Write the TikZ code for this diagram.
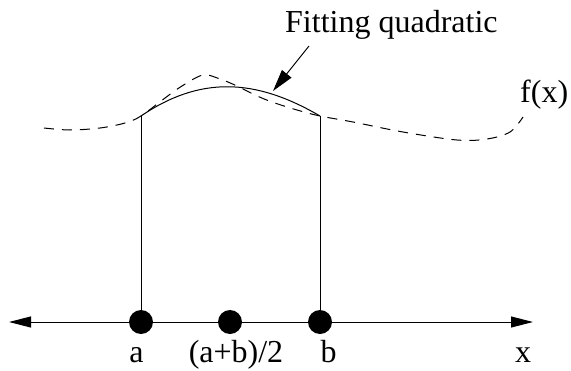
\documentclass[tikz,border=0pt]{standalone}
\usepackage{fontspec}
\setmainfont{Liberation Serif}
\usetikzlibrary{arrows.meta,positioning}

\begin{document}
\begin{tikzpicture}[x=1pt, y=-1pt,
    lbl/.style={font=\fontsize{32}{38}\selectfont, inner sep=0pt, anchor=base},
    dot/.style={circle, fill=black, inner sep=0pt, minimum size=24pt},
    thin line/.style={line width=1pt},
    fcurve/.style={line width=1pt, dash pattern=on 10pt off 8pt},
    axis/.style={line width=1pt, {Triangle[length=22pt,width=11pt]}-{Triangle[length=22pt,width=11pt]}},
    pointer/.style={line width=1pt, -{Triangle[length=22pt,width=12pt]}},
]
\useasboundingbox (0,0) rectangle (571,370);

% x axis and the three sample points
\coordinate (xl) at (9,322);
\coordinate (xr) at (533,322);
\draw[axis] (xl) -- (xr);
\foreach \name/\x in {a/141, m/230, b/320} {
    \node[dot] (\name) at (\x,322) {};
}
\node[lbl] (la) at (136.5,362) {a};
\node[lbl] (lm) at (236,362) {(a+b)/2};
\node[lbl] (lb) at (328.5,362) {b};
\node[lbl] (lx) at (523,362) {x};

% f(x) and the fitting quadratic
\coordinate (fa) at (141,116);
\coordinate (fb) at (320,116);
\draw[thin line] (a) -- (fa);
\draw[thin line] (b) -- (fb);
\draw[thin line] (fa) .. controls (200,76) and (255,78) .. (fb);
\draw[fcurve] plot[smooth, tension=0.55] coordinates {(44,128) (70,130) (100,128) (125,123) (141,116)
    (165,98) (182,86) (203,75) (220,79) (237,86) (255,95) (272,102) (297,110) (320,116)
    (353,122) (403,132) (457,140) (487,139) (510,132) (523,117)};
\node[lbl, anchor=base west] (lf) at (520,102) {f(x)};

% label with pointer
\node[lbl, anchor=base west] (lfit) at (285,32) {Fitting quadratic};
\coordinate (qs) at (309,46);
\coordinate (qt) at (273,91);
\draw[pointer] (qs) -- (qt);
\end{tikzpicture}
\end{document}
